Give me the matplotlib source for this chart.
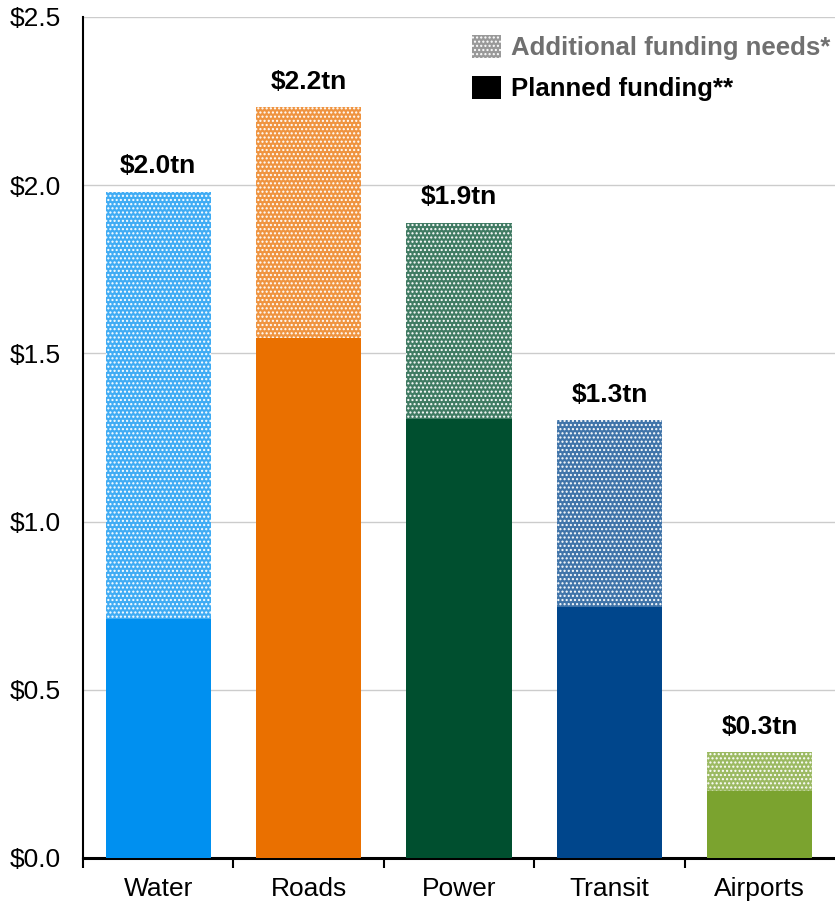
import matplotlib
matplotlib.use("Agg")
import matplotlib.pyplot as plt
from matplotlib.patches import Patch
from matplotlib.colors import to_rgb
import numpy as np

plt.rcParams['font.family'] = ['Liberation Sans', 'DejaVu Sans']
plt.rcParams['hatch.linewidth'] = 1.0

categories = ["Water", "Roads", "Power", "Transit", "Airports"]
planned = [0.71, 1.546, 1.305, 0.746, 0.199]
totals = [1.98, 2.232, 1.888, 1.302, 0.315]
total_labels = ["$2.0tn", "$2.2tn", "$1.9tn", "$1.3tn", "$0.3tn"]
colors = ["#0090F0", "#EA7000", "#004F2F", "#00468C", "#7BA32F"]
yticks = [0.0, 0.5, 1.0, 1.5, 2.0, 2.5]


def lighten(c, f):
    r = np.array(to_rgb(c))
    return tuple(r + (1 - r) * f)


additional = [t - p for t, p in zip(totals, planned)]
x = np.arange(len(categories))

fig = plt.figure(figsize=(8.35, 9.02), dpi=100)
ax = fig.add_axes([0.0994, 0.0488, 0.9006, 0.9324])

ax.bar(x, planned, width=0.7, color=colors, linewidth=0, zorder=3)
for i in range(len(x)):
    ax.bar(x[i], additional[i], bottom=planned[i], width=0.7,
           facecolor=lighten(colors[i], 0.25), edgecolor="white",
           hatch="....", linewidth=0, zorder=3)
    ax.text(x[i], totals[i] + 0.04, total_labels[i], ha="center", va="bottom",
            fontsize=19, fontweight="bold")

ax.set_xlim(-0.5, 4.5)
ax.set_ylim(0, 2.5)
ax.set_yticks(yticks)
ax.set_yticklabels(["$%.1f" % v for v in yticks], fontsize=19)
ax.tick_params(axis="y", length=0, pad=16)
ax.set_xticks(x)
ax.set_xticklabels(categories, fontsize=19)
ax.tick_params(axis="x", which="major", length=0, pad=14)
ax.set_xticks(np.arange(-0.5, 4.5, 1.0), minor=True)
ax.tick_params(axis="x", which="minor", length=7, width=1.5, direction="out")
ax.grid(axis="y", color="#CCCCCC", linewidth=1, zorder=0)
ax.spines["top"].set_visible(False)
ax.spines["right"].set_visible(False)
ax.spines["left"].set_linewidth(1.5)
ax.spines["bottom"].set_linewidth(2.2)

handles = [
    Patch(facecolor="#999999", edgecolor="white", hatch="....", linewidth=0),
    Patch(facecolor="black", linewidth=0),
]
leg = ax.legend(handles, ["Additional funding needs*", "Planned funding**"],
                loc="upper left", bbox_to_anchor=(0.494, 1.0), frameon=False,
                prop={"size": 18.5, "weight": "bold"}, handlelength=1.1,
                handleheight=1.0, handletextpad=0.4, labelspacing=0.6,
                borderaxespad=0.3)
leg.get_texts()[0].set_color("#707070")

fig.savefig("out.png", dpi=100)
